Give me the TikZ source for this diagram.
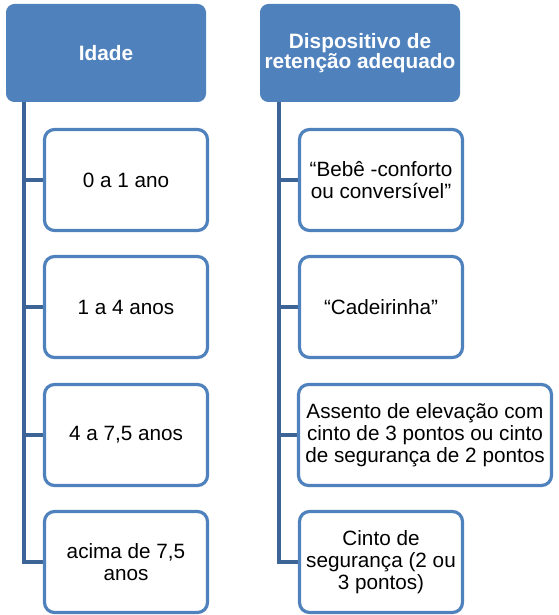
\documentclass[tikz,border=0pt]{standalone}
\usepackage{fontspec}
\setmainfont{Liberation Sans}
\usetikzlibrary{backgrounds}
\definecolor{hdr}{RGB}{79,129,189}
\definecolor{conn}{RGB}{60,100,150}
\definecolor{bord}{RGB}{79,129,189}
\begin{document}
\begin{tikzpicture}[x=1pt,y=-1pt,
  header/.style={fill=hdr,draw=hdr,line width=1pt,rounded corners=8pt,minimum width=199pt,minimum height=97pt,inner sep=0pt,align=center,text=white,font=\fontsize{20.8}{20}\selectfont\bfseries},
  child/.style={draw=bord,fill=white,line width=3.2pt,rounded corners=10pt,minimum width=163pt,minimum height=101pt,inner sep=0pt,align=center,font=\fontsize{20.7}{22}\selectfont},
  connline/.style={draw=conn,line width=3.8pt}]
\useasboundingbox (0,0) rectangle (558,615);
\node[header] (h1) at (106,53) {Idade};
\node[header] (h2) at (360,53) {Dispositivo de\\retenção adequado};
\coordinate (t1) at ([xshift=18pt]h1.south west);
\coordinate (t2) at ([xshift=19pt]h2.south west);
\node[child] (c1) at (126,180) {0 a 1 ano};
\node[child] (c2) at (126,307) {1 a 4 anos};
\node[child] (c3) at (126,435) {4 a 7,5 anos};
\node[child] (c4) at (126,562) {acima de 7,5\\anos};
\node[child] (d1) at (381,180) {“Bebê -conforto\\ou conversível”};
\node[child] (d2) at (381,307) {“Cadeirinha”};
\node[child,minimum width=253pt] (d3) at (425,435) {Assento de elevação com\\cinto de 3 pontos ou cinto\\de segurança de 2 pontos};
\node[child] (d4) at (381,562) {Cinto de\\segurança (2 ou\\3 pontos)};
\begin{pgfonlayer}{background}
\draw[connline] (t1) |- (c4.west);
\draw[connline] (t1) |- (c1.west);
\draw[connline] (t1) |- (c2.west);
\draw[connline] (t1) |- (c3.west);
\draw[connline] (t2) |- (d4.west);
\draw[connline] (t2) |- (d1.west);
\draw[connline] (t2) |- (d2.west);
\draw[connline] (t2) |- (d3.west);
\end{pgfonlayer}
\end{tikzpicture}
\end{document}
